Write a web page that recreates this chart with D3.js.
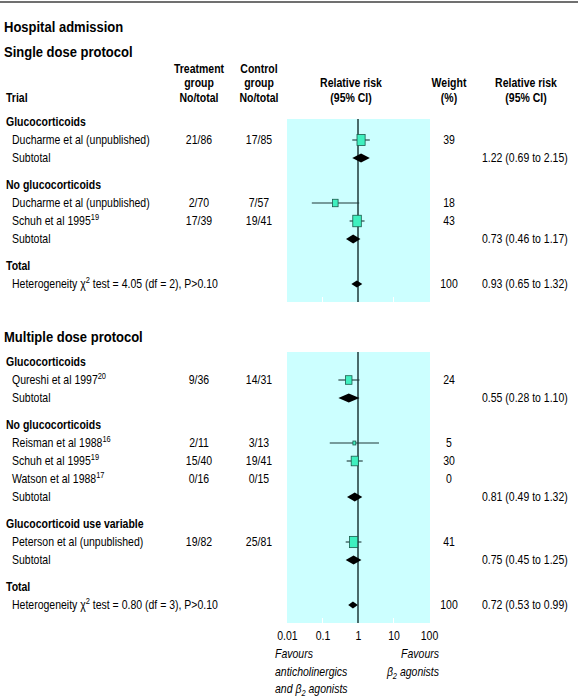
<!DOCTYPE html>
<html><head><meta charset="utf-8">
<script src="https://cdn.jsdelivr.net/npm/d3@7"></script>
<style>
body{margin:0;background:#fff}
svg{display:block}
text{font-family:"Liberation Sans",Arial,Helvetica,sans-serif;fill:#000}
</style>
</head><body>
<svg id="chart" width="580" height="700"></svg>
<script>
// ---------- DATA ----------
const chartTitle = "Hospital admission";
const sectionTitles = ["Single dose protocol", "Multiple dose protocol"];
const rowSection = [0,0,0,0,0,0,0,0,0, 1,1,1,1,1,1,1,1,1,1,1,1,1,1];
const rowKind = ["group","study","subtotal","group","study","study","subtotal","group","het",
  "group","study","subtotal","group","study","study","study","subtotal","group","study","subtotal","group","het"];
const rowLabel = ["Glucocorticoids","Ducharme et al (unpublished)","Subtotal","No glucocorticoids",
  "Ducharme et al (unpublished)","Schuh et al 1995","Subtotal","Total","Heterogeneity \u03C7",
  "Glucocorticoids","Qureshi et al 1997","Subtotal","No glucocorticoids","Reisman et al 1988",
  "Schuh et al 1995","Watson et al 1988","Subtotal","Glucocorticoid use variable",
  "Peterson et al (unpublished)","Subtotal","Total","Heterogeneity \u03C7"];
const rowSup = ["","","","","","19","","","2", "","20","","","16","19","17","","","","","","2"];
const rowTail = ["","","","","","","",""," test = 4.05 (df = 2), P>0.10",
  "","","","","","","","","","","",""," test = 0.80 (df = 3), P>0.10"];
const treatment = [null,"21/86",null,null,"2/70","17/39",null,null,null,
  null,"9/36",null,null,"2/11","15/40","0/16",null,null,"19/82",null,null,null];
const control = [null,"17/85",null,null,"7/57","19/41",null,null,null,
  null,"14/31",null,null,"3/13","19/41","0/15",null,null,"25/81",null,null,null];
const weight = [null,39,null,null,18,43,null,null,100,
  null,24,null,null,5,30,0,null,null,41,null,null,100];
const rr = [null,1.22,1.22,null,0.23,0.94,0.73,null,0.93,
  null,0.55,0.55,null,0.79,0.81,null,0.81,null,0.75,0.75,null,0.72];
const ciLow = [null,0.69,0.69,null,0.05,0.58,0.46,null,0.65,
  null,0.28,0.28,null,0.16,0.48,null,0.49,null,0.45,0.45,null,0.53];
const ciHigh = [null,2.15,2.15,null,1.08,1.53,1.17,null,1.32,
  null,1.10,1.10,null,3.9,1.36,null,1.32,null,1.25,1.25,null,0.99];
const rrText = [null,null,"1.22 (0.69 to 2.15)",null,null,null,"0.73 (0.46 to 1.17)",null,"0.93 (0.65 to 1.32)",
  null,null,"0.55 (0.28 to 1.10)",null,null,null,null,"0.81 (0.49 to 1.32)",null,null,"0.75 (0.45 to 1.25)",null,"0.72 (0.53 to 0.99)"];
const tickValues = [0.01, 0.1, 1, 10, 100];
const tickLabels = ["0.01","0.1","1","10","100"];

// ---------- LAYOUT ----------
const svg = d3.select("#chart");
const FS = 12;          // body font size
const SX = 0.875;       // horizontal compression (narrow face)
const TFS = 14, TSX = 0.93;
const SUP = 8.5;
const x = d3.scaleLog().domain([0.01, 100]).range([287, 429]);
const sectionTitleY = [57, 342];
const sectionFirstRow = [122, 362];
const panelTop = [119, 352];
const colTreat = 199, colCtrl = 259, colWeight = 449, colRR = 482;
const tf = (px, py, s) => `translate(${px},${py}) scale(${s || SX},1)`;

const rowY = [];
let prevSec = -1, cur = 0;
rowKind.forEach((k, i) => {
  const s = rowSection[i];
  if (s !== prevSec) { cur = sectionFirstRow[s]; prevSec = s; }
  else if (k === "group") cur += 27;
  else cur += 18;
  rowY.push(cur);
});

svg.append("line").attr("x1", 0).attr("x2", 578).attr("y1", 2).attr("y2", 2)
  .attr("stroke", "#707070").attr("stroke-width", 2);

svg.append("text").attr("transform", tf(4, 32, TSX)).attr("font-size", TFS).attr("font-weight", "bold").text(chartTitle);
sectionTitles.forEach((t, s) => {
  svg.append("text").attr("transform", tf(4, sectionTitleY[s], TSX)).attr("font-size", TFS)
    .attr("font-weight", "bold").text(t);
});

const hdr = [
  [6, 102, "Trial", "start"],
  [colTreat, 73, "Treatment", "middle"], [colTreat, 87, "group", "middle"], [colTreat, 102, "No/total", "middle"],
  [colCtrl, 73, "Control", "middle"], [colCtrl, 87, "group", "middle"], [colCtrl, 102, "No/total", "middle"],
  [351, 87, "Relative risk", "middle"], [351, 102, "(95% CI)", "middle"],
  [colWeight, 87, "Weight", "middle"], [colWeight, 102, "(%)", "middle"],
  [526, 87, "Relative risk", "middle"], [526, 102, "(95% CI)", "middle"]
];
svg.append("g").selectAll("text").data(hdr).join("text")
  .attr("transform", d => tf(d[0], d[1])).attr("text-anchor", d => d[3])
  .attr("font-size", FS).attr("font-weight", "bold").text(d => d[2]);

const panelBottom = [0, 1].map(s => {
  const ys = rowY.filter((y, i) => rowSection[i] === s);
  return d3.max(ys) + 18;
});
[0, 1].forEach(s => {
  svg.append("rect").attr("x", x(0.01)).attr("y", panelTop[s])
    .attr("width", x(100) - x(0.01) + 1).attr("height", panelBottom[s] - panelTop[s])
    .attr("fill", "#ccffff");
  [0.1, 10].forEach(v => {
    svg.append("line").attr("x1", x(v)).attr("x2", x(v))
      .attr("y1", panelBottom[s] - 5).attr("y2", panelBottom[s])
      .attr("stroke", "#fff").attr("stroke-width", 1);
  });
  svg.append("line").attr("x1", x(1)).attr("x2", x(1))
    .attr("y1", panelTop[s]).attr("y2", panelBottom[s])
    .attr("stroke", "#1f3838").attr("stroke-width", 1.5);
});

const rows = rowKind.map((k, i) => ({i, k, y: rowY[i]}));
const lab = svg.append("g").selectAll("text").data(rows).join("text")
  .attr("transform", d => tf(d.k === "group" ? 6 : 12, d.y + 4))
  .attr("font-size", FS)
  .attr("font-weight", d => d.k === "group" ? "bold" : "normal");
lab.each(function(d) {
  const t = d3.select(this);
  t.append("tspan").text(rowLabel[d.i]);
  if (rowSup[d.i]) {
    t.append("tspan").attr("dy", -5).attr("font-size", SUP).text(rowSup[d.i]);
    if (rowTail[d.i]) t.append("tspan").attr("dy", 5).text(rowTail[d.i]);
  }
});

const num = svg.append("g").attr("font-size", FS);
num.selectAll("text.t").data(rows.filter(d => treatment[d.i])).join("text").attr("class", "t")
  .attr("transform", d => tf(colTreat, d.y + 4)).attr("text-anchor", "middle").text(d => treatment[d.i]);
num.selectAll("text.c").data(rows.filter(d => control[d.i])).join("text").attr("class", "c")
  .attr("transform", d => tf(colCtrl, d.y + 4)).attr("text-anchor", "middle").text(d => control[d.i]);
num.selectAll("text.w").data(rows.filter(d => weight[d.i] !== null)).join("text").attr("class", "w")
  .attr("transform", d => tf(colWeight, d.y + 4)).attr("text-anchor", "middle").text(d => weight[d.i]);
num.selectAll("text.r").data(rows.filter(d => rrText[d.i])).join("text").attr("class", "r")
  .attr("transform", d => tf(colRR, d.y + 4)).text(d => rrText[d.i]);

const sw = d3.scaleSqrt().domain([0, 100]).range([0, 13]);
const studies = rows.filter(d => d.k === "study" && rr[d.i] !== null);
const mk = svg.append("g");
mk.selectAll("line").data(studies).join("line")
  .attr("x1", d => x(ciLow[d.i])).attr("x2", d => x(ciHigh[d.i]))
  .attr("y1", d => d.y).attr("y2", d => d.y)
  .attr("stroke", "#1f3838").attr("stroke-width", 1.1);
mk.selectAll("rect").data(studies).join("rect")
  .attr("x", d => x(rr[d.i]) - sw(weight[d.i]) / 2)
  .attr("y", d => d.y - sw(weight[d.i]) * 1.35 / 2)
  .attr("width", d => sw(weight[d.i]))
  .attr("height", d => sw(weight[d.i]) * 1.35)
  .attr("fill", "#3ff0bf").attr("stroke", "#1a5a4a").attr("stroke-width", 0.8);

const pooled = rows.filter(d => (d.k === "subtotal" || d.k === "het") && rr[d.i] !== null);
svg.append("g").selectAll("path").data(pooled).join("path")
  .attr("d", d => {
    const h = d.k === "het" ? 3.5 : 4.5;
    return `M${x(ciLow[d.i])},${d.y}L${x(rr[d.i])},${d.y - h}L${x(ciHigh[d.i])},${d.y}L${x(rr[d.i])},${d.y + h}Z`;
  })
  .attr("fill", "#000");

const axisG = svg.append("g").attr("transform", `translate(0,${panelBottom[1] + 17})`)
  .call(d3.axisBottom(x).tickValues(tickValues).tickFormat((d, i) => tickLabels[i]).tickSize(0).tickPadding(0));
axisG.select(".domain").remove();
axisG.attr("font-family", null).attr("font-size", null);
axisG.selectAll("text").attr("font-size", FS).attr("y", 0).attr("dy", null)
  .attr("transform", `scale(${SX},1)`).attr("fill", "#000");

const fy = panelBottom[1] + 35;
const fav = svg.append("g").attr("font-size", FS).attr("font-style", "italic");
fav.append("text").attr("transform", tf(275, fy)).text("Favours");
fav.append("text").attr("transform", tf(275, fy + 18)).text("anticholinergics");
const t3 = fav.append("text").attr("transform", tf(275, fy + 35));
t3.append("tspan").text("and \u03B2");
t3.append("tspan").attr("dy", 3).attr("font-size", SUP).text("2");
t3.append("tspan").attr("dy", -3).text(" agonists");
fav.append("text").attr("transform", tf(439, fy)).attr("text-anchor", "end").text("Favours");
const t4 = fav.append("text").attr("transform", tf(439, fy + 18)).attr("text-anchor", "end");
t4.append("tspan").text("\u03B2");
t4.append("tspan").attr("dy", 3).attr("font-size", SUP).text("2");
t4.append("tspan").attr("dy", -3).text(" agonists");
</script>
</body></html>
